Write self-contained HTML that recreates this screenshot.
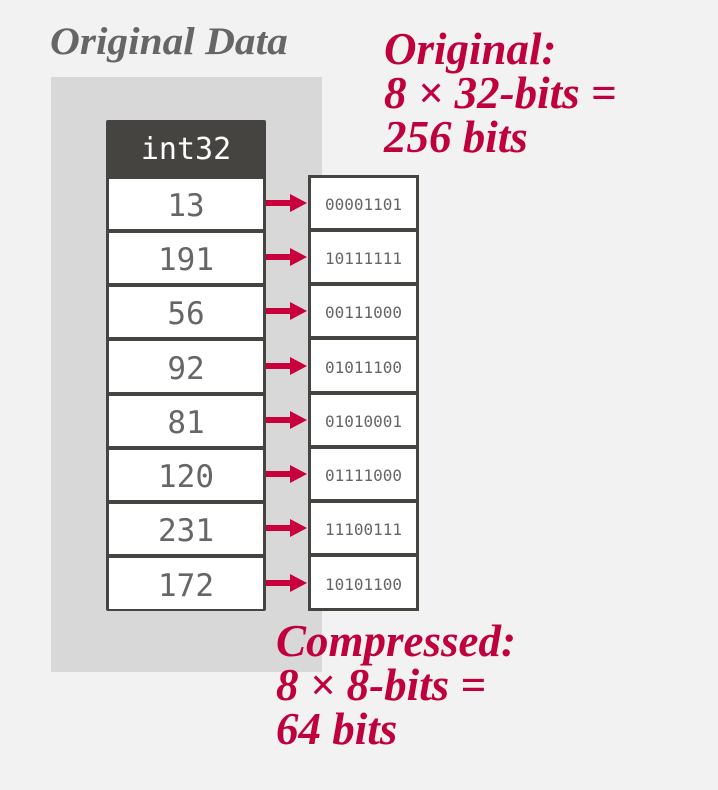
<!DOCTYPE html>
<html><head><style>
body{margin:0;width:718px;height:790px;background:#f2f2f2;position:relative;overflow:hidden}
div{position:absolute;box-sizing:border-box}
.t{font-family:"Liberation Serif",serif;font-weight:bold;font-style:italic;white-space:nowrap;transform-origin:0 0}
.red{color:#c0003c;font-size:45px;line-height:44px;transform:scaleX(1.0)}
.c{background:#fff;text-align:center;font-family:"DejaVu Sans Mono","Liberation Mono",monospace;color:#666}
.a{background:#c8003c;height:6px}
</style></head><body>
<div class="t" style="left:50px;top:19px;font-size:39px;color:#666;transform:scaleX(1.06)">Original Data</div>
<div style="left:51px;top:77px;width:271px;height:595px;background:#d8d8d8"></div>
<div style="left:106px;top:120px;width:160px;height:491px;background:#454440;border-radius:2px"></div>
<div style="left:106px;top:120px;width:160px;height:57px;color:#fff;font-family:'DejaVu Sans Mono',monospace;font-size:30px;line-height:60px;text-align:center">int32</div>
<div style="left:308px;top:175px;width:111px;height:436px;background:#454440"></div>
<div id="rows"></div>
<script>
var b=[177,231,285,339,394,448,502,556,611];
var v=["13","191","56","92","81","120","231","172"];
var s=["00001101","10111111","00111000","01011100","01010001","01111000","11100111","10101100"];
var h="";
for(var i=0;i<8;i++){
 var t=b[i]+2,hh=b[i+1]-b[i]-4,m=(b[i]+b[i+1])/2;
 h+='<div class="c" style="left:109px;top:'+t+'px;width:154px;height:'+hh+'px;font-size:31px;line-height:'+(hh+5)+'px">'+v[i]+'</div>';
 h+='<div class="c" style="left:311px;top:'+(t-1)+'px;width:105px;height:'+hh+'px;font-size:16px;line-height:'+(hh+4)+'px">'+s[i]+'</div>';
 h+='<div class="a" style="left:266px;top:'+(m-4)+'px;width:26px"></div>';
 h+='<div style="left:290px;top:'+(m-10)+'px;width:0;height:0;border-top:9px solid transparent;border-bottom:9px solid transparent;border-left:17px solid #c8003c"></div>';
}
document.getElementById('rows').outerHTML=h;
</script>
<div class="t red" style="left:384px;top:27px">Original:<br>8 × 32-bits =<br>256 bits</div>
<div class="t red" style="left:276px;top:619px">Compressed:<br>8 × 8-bits =<br>64 bits</div>
</body></html>
